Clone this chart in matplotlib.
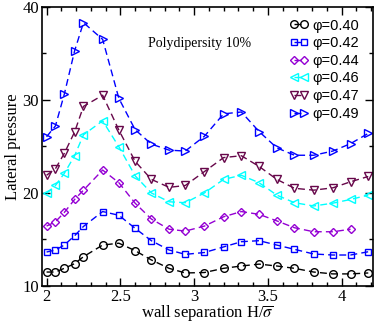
import matplotlib
matplotlib.use("Agg")
import matplotlib.pyplot as plt
from matplotlib.ticker import MultipleLocator

plt.rcParams['font.family'] = ['Liberation Serif', 'DejaVu Serif']
plt.rcParams['mathtext.fontset'] = 'stix'

H = [2.0, 2.06, 2.12, 2.19, 2.25, 2.38, 2.49, 2.6, 2.71, 2.83, 2.94,
     3.07, 3.2, 3.32, 3.44, 3.56, 3.68, 3.81, 3.94, 4.06, 4.18]

p40 = [11.5, 11.5, 11.9, 12.4, 13.15, 14.4, 14.6, 13.8, 12.8, 11.9, 11.4,
       11.45, 11.9, 12.15, 12.35, 12.15, 11.9, 11.5, 11.3, 11.3, 11.4]
p42 = [13.65, 13.87, 14.4, 15.4, 16.4, 18.0, 17.6, 16.2, 14.87, 13.87, 13.4,
       13.6, 14.2, 14.76, 14.87, 14.4, 13.94, 13.44, 13.33, 13.33, 13.68]
p44 = [16.44, 16.9, 17.9, 19.3, 20.3, 22.46, 21.1, 18.9, 17.2, 16.1, 15.9,
       16.44, 17.44, 18.0, 17.7, 17.0, 16.26, 15.83, 15.83, 16.1]
p46 = [19.96, 20.8, 22.1, 24.0, 26.25, 27.75, 24.96, 21.85, 20.0, 19.05, 18.95,
       20.0, 21.46, 21.9, 21.1, 19.77, 18.95, 18.6, 18.9, 19.3, 19.77]
p47 = [21.9, 22.6, 24.25, 26.55, 29.3, 30.5, 26.75, 23.4, 21.46, 20.6, 20.8,
       22.3, 23.8, 24.0, 22.85, 21.46, 20.5, 20.3, 20.55, 21.2, 21.77]
p49 = [26.04, 27.2, 30.6, 35.27, 38.3, 36.5, 30.16, 26.8, 25.25, 24.6, 24.5,
       26.1, 28.5, 28.7, 26.6, 24.85, 24.05, 24.05, 24.5, 25.3, 26.4]

labels = ['φ=0.40', 'φ=0.42', 'φ=0.44', 'φ=0.46', 'φ=0.47', 'φ=0.49']
series = [p40, p42, p44, p46, p47, p49]
colors = ['#000000', '#0000ff', '#9400d3', '#00ffff', '#67074a', '#0000ff']
markers = ['o', 's', 'D', '<', 'v', '>']
msizes = [5.5, 5.0, 4.2, 5.5, 5.5, 5.5]

fig = plt.figure(figsize=(3.74, 3.22), dpi=100)
ax = fig.add_axes([0.1115, 0.1118, 0.885, 0.867])

for ys, lab, c, m, ms in zip(series, labels, colors, markers, msizes):
    ax.plot(H[:len(ys)], ys, linestyle=(0, (5, 3)), color=c, lw=1.0,
            marker=m, markersize=ms, markerfacecolor='none',
            markeredgecolor=c, markeredgewidth=1.0, label=lab)

ax.set_xlim(1.967, 4.21)
ax.set_ylim(10, 40)
ax.xaxis.set_major_locator(MultipleLocator(0.5))
ax.xaxis.set_minor_locator(MultipleLocator(0.1))
ax.yaxis.set_major_locator(MultipleLocator(10))
ax.yaxis.set_minor_locator(MultipleLocator(5))
ax.set_xticks([2, 2.5, 3, 3.5, 4])
ax.set_xticklabels(['2', '2.5', '3', '3.5', '4'])
ax.tick_params(which='both', direction='in', top=True, right=True, labelsize=12, width=1.0)
ax.tick_params(which='major', length=6)
ax.tick_params(which='minor', length=3)
ax.tick_params(axis='x', pad=2)
ax.tick_params(axis='y', pad=2)
for s in ax.spines.values():
    s.set_linewidth(1.2)

ax.set_xlabel(r'wall separation H/$\overline{\sigma}$', fontsize=12, labelpad=-1)
ax.set_ylabel('Lateral pressure', fontsize=12, labelpad=1)

ax.text(0.321, 0.87, 'Polydipersity 10%', transform=ax.transAxes, fontsize=10,
        ha='left', va='center')

leg = ax.legend(loc='upper right', bbox_to_anchor=(1.0, 1.005), frameon=False,
                numpoints=2, handlelength=1.3, handletextpad=0.3, labelspacing=0.25,
                prop={'family': 'Liberation Sans', 'size': 10.5})

fig.savefig('out.png', dpi=100)
